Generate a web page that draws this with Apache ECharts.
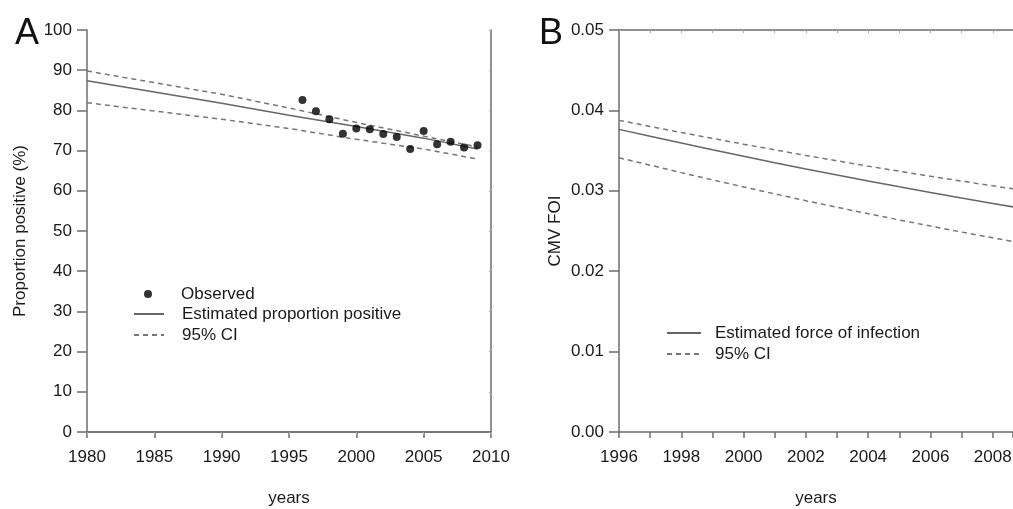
<!DOCTYPE html>
<html>
<head>
<meta charset="utf-8">
<script src="https://cdn.jsdelivr.net/npm/echarts@6/dist/echarts.min.js"></script>
<style>html,body{margin:0;padding:0;background:#fff;}#c{width:1013px;height:509px;}</style>
</head>
<body>
<div id="c"></div>
<script>
// Panel A data
var obsYears = [1996,1997,1998,1999,2000,2001,2002,2003,2004,2005,2006,2007,2008,2009];
var obsValues = [82.6,79.8,77.8,74.2,75.5,75.3,74.1,73.4,70.4,74.9,71.6,72.2,70.8,71.3];
var estYearsA = [1980,1990,1995,2000,2005,2009];
var estA = [87.4,81.8,78.8,76.0,73.1,70.4];
var upperA = [89.8,84.0,80.6,77.0,73.6,70.9];
var lowerA = [81.9,77.8,75.5,72.8,70.4,67.9];
// Panel B data
var yearsB = [1996,1997,1998,1999,2000,2001,2002,2003,2004,2005,2006,2007,2008,2009];
var estB = [0.03764,0.03678,0.03594,0.03511,0.03430,0.03350,0.03272,0.03196,0.03122,0.03050,0.02979,0.02910,0.02843,0.02777];
var upperB = [0.03876,0.03800,0.03725,0.03652,0.03580,0.03510,0.03440,0.03373,0.03307,0.03243,0.03181,0.03121,0.03062,0.03004];
var lowerB = [0.03411,0.03319,0.03226,0.03136,0.03048,0.02962,0.02877,0.02795,0.02715,0.02637,0.02561,0.02487,0.02415,0.02345];

function pairs(xs, ys){ return xs.map(function(x,i){ return [x, ys[i]]; }); }

var FONT = 'Liberation Sans, Arial, sans-serif';
var TXT = '#1a1a1a';
var AX = '#6e6e6e';
var lineAxis = {lineStyle:{color:AX, width:1.5}};
var tickOut = function(len){ return {show:true, length:len, lineStyle:{color:AX, width:1.5}}; };
var lbl = {color:TXT, fontSize:17, fontFamily:FONT};
var legText = function(pad){ return {color:TXT, fontSize:17, fontFamily:FONT, lineHeight:20, padding:[0,0,0,pad]}; };

var chart = echarts.init(document.getElementById('c'), null, {renderer:'canvas'});
chart.setOption({
  backgroundColor:'#fff',
  animation:false,
  grid:[
    {left:87, right:522, top:30, bottom:77, outerBoundsMode:'none', containLabel:false},
    {left:619, right:0, top:30, bottom:77, outerBoundsMode:'none', containLabel:false}
  ],
  graphic:[
    {type:'text', left:15, top:16, style:{text:'A', fontSize:36, fontFamily:FONT, fill:'#111'}},
    {type:'text', left:539, top:16, style:{text:'B', fontSize:36, fontFamily:FONT, fill:'#111'}}
  ],
  legend:[
    {left:144, top:284, padding:0, orient:'vertical', itemWidth:8, itemHeight:8, itemGap:1,
     data:['Observed'], textStyle:legText(24)},
    {left:133, top:304, padding:0, orient:'vertical', itemWidth:30, itemHeight:14, itemGap:1,
     itemStyle:{opacity:0},
     data:['Estimated proportion positive','95% CI'], textStyle:legText(13)},
    {left:666, top:323, padding:0, orient:'vertical', itemWidth:34, itemHeight:14, itemGap:1,
     itemStyle:{opacity:0},
     data:['Estimated force of infection','95% CI '], textStyle:legText(9)}
  ],
  xAxis:[
    {type:'value', gridIndex:0, min:1980, max:2010, interval:5, position:'bottom',
     axisLine:lineAxis, axisTick:tickOut(6), splitLine:{show:false},
     axisLabel:Object.assign({margin:17, formatter:function(v){ return String(Math.round(v)); }}, lbl),
     name:'years', nameLocation:'middle', nameGap:58, nameTextStyle:{color:TXT, fontSize:17, fontFamily:FONT}},
    {type:'value', gridIndex:0, min:1980, max:2010, interval:5, position:'top',
     axisLine:lineAxis, axisTick:{show:true, inside:true, length:3, lineStyle:{color:'#aaa'}}, axisLabel:{show:false}, splitLine:{show:false}},
    {type:'value', gridIndex:1, min:1996, max:2008.65, interval:1, position:'bottom',
     axisLine:lineAxis, axisTick:tickOut(6), splitLine:{show:false},
     axisLabel:Object.assign({margin:17, formatter:function(v){ return (Math.round(v)%2===0) ? String(Math.round(v)) : ''; }}, lbl),
     name:'years', nameLocation:'middle', nameGap:58, nameTextStyle:{color:TXT, fontSize:17, fontFamily:FONT}},
    {type:'value', gridIndex:1, min:1996, max:2008.65, interval:1, position:'top',
     axisLine:lineAxis, axisTick:{show:true, inside:true, length:3, lineStyle:{color:'#aaa'}}, axisLabel:{show:false}, splitLine:{show:false}}
  ],
  yAxis:[
    {type:'value', gridIndex:0, min:0, max:100, interval:10, position:'left',
     axisLine:Object.assign({show:true}, lineAxis), axisTick:tickOut(10), splitLine:{show:false},
     axisLabel:Object.assign({margin:15}, lbl),
     name:'Proportion positive (%)', nameLocation:'middle', nameGap:58, nameRotate:90,
     nameTextStyle:{color:TXT, fontSize:17, fontFamily:FONT}},
    {type:'value', gridIndex:0, min:0, max:100, interval:10, position:'right',
     axisLine:Object.assign({show:true}, lineAxis), axisTick:{show:true, inside:true, length:2, lineStyle:{color:'#aaa'}}, axisLabel:{show:false}, splitLine:{show:false}},
    {type:'value', gridIndex:1, min:0, max:0.05, interval:0.01, position:'left',
     axisLine:Object.assign({show:true}, lineAxis), axisTick:tickOut(10), splitLine:{show:false},
     axisLabel:Object.assign({margin:15, formatter:function(v){ return v.toFixed(2); }}, lbl),
     name:'CMV FOI', nameLocation:'middle', nameGap:55, nameRotate:90,
     nameTextStyle:{color:TXT, fontSize:17, fontFamily:FONT}}
  ],
  series:[
    {name:'Observed', type:'scatter', xAxisIndex:0, yAxisIndex:0, symbol:'circle', symbolSize:8,
     itemStyle:{color:'#000'}, data:pairs(obsYears, obsValues), z:5},
    {name:'Estimated proportion positive', type:'line', xAxisIndex:0, yAxisIndex:0, symbol:'none',
     lineStyle:{color:'#666', width:1.5}, itemStyle:{color:'#666'}, data:pairs(estYearsA, estA)},
    {name:'95% CI', type:'line', xAxisIndex:0, yAxisIndex:0, symbol:'none',
     lineStyle:{color:'#777', width:1.5, type:[5,4]}, itemStyle:{color:'#777'}, data:pairs(estYearsA, upperA)},
    {name:'95% CI', type:'line', xAxisIndex:0, yAxisIndex:0, symbol:'none',
     lineStyle:{color:'#777', width:1.5, type:[5,4]}, itemStyle:{color:'#777'}, data:pairs(estYearsA, lowerA)},
    {name:'Estimated force of infection', type:'line', xAxisIndex:2, yAxisIndex:2, symbol:'none', clip:true,
     lineStyle:{color:'#666', width:1.5}, itemStyle:{color:'#666'}, data:pairs(yearsB, estB)},
    {name:'95% CI ', type:'line', xAxisIndex:2, yAxisIndex:2, symbol:'none', clip:true,
     lineStyle:{color:'#777', width:1.5, type:[5,4]}, itemStyle:{color:'#777'}, data:pairs(yearsB, upperB)},
    {name:'95% CI ', type:'line', xAxisIndex:2, yAxisIndex:2, symbol:'none', clip:true,
     lineStyle:{color:'#777', width:1.5, type:[5,4]}, itemStyle:{color:'#777'}, data:pairs(yearsB, lowerB)}
  ]
});
</script>
</body>
</html>
